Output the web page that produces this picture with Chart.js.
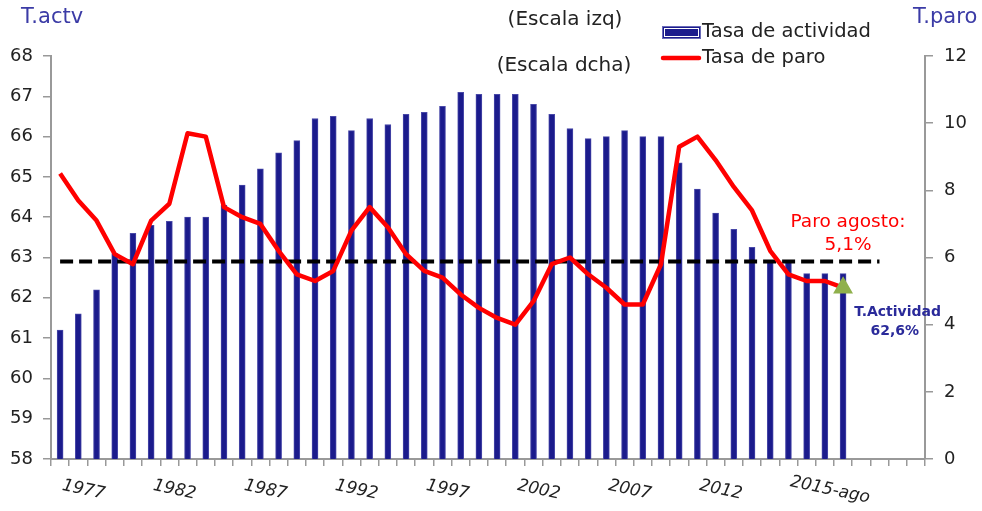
<!DOCTYPE html>
<html>
<head>
<meta charset="utf-8">
<script src="https://cdn.jsdelivr.net/npm/chart.js@4/dist/chart.umd.min.js"></script>
<style>
html,body{margin:0;padding:0;background:#fff;}
#wrap{width:982px;height:511px;position:relative;}
</style>
</head>
<body>
<div id="wrap"><canvas id="c" width="982" height="511"></canvas></div>
<script>
// ---- data ----
const categorias = ['1975','1976','1977','1978','1979','1980','1981','1982','1983','1984',
  '1985','1986','1987','1988','1989','1990','1991','1992','1993','1994',
  '1995','1996','1997','1998','1999','2000','2001','2002','2003','2004',
  '2005','2006','2007','2008','2009','2010','2011','2012','2013','2014',
  '2015-may','2015-jun','2015-jul','2015-ago','','','',''];
const tasaActividad = [61.2,61.6,62.2,63.1,63.6,63.8,63.9,64.0,64.0,64.3,
  64.8,65.2,65.6,65.9,66.45,66.5,66.15,66.45,66.3,66.55,
  66.6,66.75,67.1,67.05,67.05,67.05,66.8,66.55,66.2,65.95,
  66.0,66.15,66.0,66.0,65.35,64.7,64.1,63.7,63.25,62.9,
  62.9,62.6,62.6,62.6];
const tasaParo = [8.5,7.7,7.1,6.1,5.8,7.1,7.6,9.7,9.6,7.5,
  7.2,7.0,6.2,5.5,5.3,5.6,6.8,7.5,6.9,6.1,
  5.6,5.4,4.9,4.5,4.2,4.0,4.7,5.8,6.0,5.5,
  5.1,4.6,4.6,5.8,9.3,9.6,8.9,8.1,7.4,6.2,
  5.5,5.3,5.3,5.1];
const nivelReferencia = 62.9;         // dashed reference (left scale)
const refInicio = 0, refFin = 45;     // category indices of the reference line ends
const etiquetasEje = ['1977','1982','1987','1992','1997','2002','2007','2012','2015-ago'];
const ticksIzq = [58,59,60,61,62,63,64,65,66,67,68];
const ticksDcha = [0,2,4,6,8,10,12];

const FONT = '"DejaVu Sans", sans-serif';
const refData = categorias.map((_, i) => (i === refInicio || i === refFin) ? nivelReferencia : null);

const overlay = {
  id: 'overlay',
  afterDraw(chart) {
    const ctx = chart.ctx;
    const x = chart.scales.x;
    ctx.save();
    // x tick labels, rotated clockwise
    ctx.fillStyle = '#222';
    ctx.font = 'italic 17px ' + FONT;
    ctx.textAlign = 'center';
    ctx.textBaseline = 'middle';
    etiquetasEje.forEach(lbl => {
      const i = categorias.indexOf(lbl);
      const px = x.getPixelForValue(i) - 13;
      ctx.save();
      ctx.translate(px, 490);
      ctx.rotate(12 * Math.PI / 180);
      ctx.fillText(lbl, 0, 0);
      ctx.restore();
    });
    // axis titles
    ctx.font = '21px ' + FONT;
    ctx.fillStyle = '#3b3ba6';
    ctx.textAlign = 'left';
    ctx.fillText('T.actv', 21, 18);
    ctx.fillText('T.paro', 913, 18);
    ctx.fillStyle = '#222';
    ctx.font = '20px ' + FONT;
    ctx.textAlign = 'center';
    ctx.fillText('(Escala izq)', 565, 20);
    ctx.fillText('(Escala dcha)', 564, 66);
    // legend
    ctx.fillStyle = '#1b1b8c';
    ctx.fillRect(663, 27, 37, 11);
    ctx.strokeStyle = '#ffffff';
    ctx.lineWidth = 1;
    ctx.strokeRect(664.5, 28.5, 34, 8);
    ctx.strokeStyle = '#6a6ab8';
    ctx.strokeRect(662.5, 26.5, 38, 12);
    ctx.strokeStyle = '#ff0000';
    ctx.lineWidth = 4.5;
    ctx.lineCap = 'round';
    ctx.beginPath(); ctx.moveTo(663, 58); ctx.lineTo(699, 58); ctx.stroke();
    ctx.fillStyle = '#222';
    ctx.font = '19.5px ' + FONT;
    ctx.textAlign = 'left';
    ctx.fillText('Tasa de actividad', 702, 32);
    ctx.fillText('Tasa de paro', 702, 58);
    // annotations
    ctx.fillStyle = '#ff0000';
    ctx.font = '18.5px ' + FONT;
    ctx.textAlign = 'center';
    ctx.fillText('Paro agosto:', 848, 222);
    ctx.fillText('5,1%', 848, 245);
    ctx.fillStyle = '#2a2a9a';
    ctx.font = 'bold 14px ' + FONT;
    ctx.textAlign = 'right';
    ctx.fillText('T.Actividad', 941, 312);
    ctx.fillText('62,6%', 919, 331);
    ctx.restore();
  }
};

new Chart(document.getElementById('c'), {
  data: {
    labels: categorias,
    datasets: [
      {
        type: 'line', label: 'ref', data: refData, yAxisID: 'y',
        borderColor: '#000', borderWidth: 4, borderDash: [13, 6],
        pointRadius: 0, spanGaps: true, order: 1, borderCapStyle: 'butt'
      },
      {
        type: 'line', label: 'Tasa de paro', data: tasaParo, yAxisID: 'y1',
        borderColor: '#ff0000', borderWidth: 4.5, tension: 0,
        pointRadius: tasaParo.map((_, i) => i === tasaParo.length - 1 ? 7 : 0),
        pointStyle: 'triangle', pointBackgroundColor: '#8fb04c', pointBorderColor: '#8fb04c',
        borderJoinStyle: 'round', order: 0
      },
      {
        type: 'bar', label: 'Tasa de actividad', data: tasaActividad, yAxisID: 'y',
        backgroundColor: '#1b1b8c', borderColor: '#4848a8', borderWidth: {left:1,right:1,top:1,bottom:0},
        barThickness: 6, order: 2
      }
    ]
  },
  options: {
    responsive: false, animation: false,
    layout: { padding: { top: 56, left: 0, right: 0, bottom: 0 } },
    plugins: { legend: { display: false }, tooltip: { enabled: false } },
    scales: {
      x: {
        type: 'category', offset: true,
        grid: { offset: true, drawOnChartArea: false, drawTicks: true, tickLength: 7, color: '#999', lineWidth: 1.5 },
        border: { color: '#999', width: 2 },
        ticks: { display: false, autoSkip: false },
        afterFit(s) { s.height = 52; }
      },
      y: {
        position: 'left', min: 58, max: 68,
        afterBuildTicks(s) { s.ticks = ticksIzq.map(v => ({ value: v })); },
        grid: { drawOnChartArea: false, tickLength: 8, color: '#999', lineWidth: 1.5 },
        border: { color: '#999', width: 2 },
        ticks: { color: '#222', font: { family: FONT, size: 18 }, padding: 10 },
        afterFit(s) { s.width = 51; }
      },
      y1: {
        position: 'right', min: 0, max: 12,
        afterBuildTicks(s) { s.ticks = ticksDcha.map(v => ({ value: v })); },
        grid: { drawOnChartArea: false, tickLength: 8, color: '#999', lineWidth: 1.5 },
        border: { color: '#999', width: 2 },
        ticks: { color: '#222', font: { family: FONT, size: 18 }, padding: 11 },
        afterFit(s) { s.width = 57; }
      }
    }
  },
  plugins: [overlay]
});
</script>
</body>
</html>
